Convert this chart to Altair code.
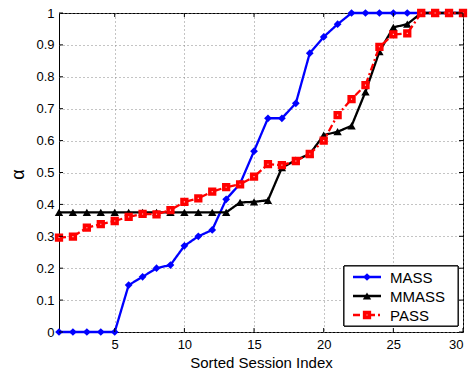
import altair as alt
import pandas as pd

# ---- data ----
session = list(range(1, 31))
mass = [0, 0, 0, 0, 0, 0.147, 0.173, 0.2, 0.21, 0.27, 0.30, 0.32, 0.416, 0.465, 0.567,
        0.67, 0.67, 0.717, 0.874, 0.925, 0.965, 1, 1, 1, 1, 1, 1, 1, 1, 1]
mmass = [0.375, 0.375, 0.375, 0.375, 0.375, 0.375, 0.375, 0.375, 0.375, 0.375, 0.375, 0.375, 0.375,
         0.406, 0.408, 0.413, 0.515, 0.539, 0.558, 0.617, 0.628, 0.646, 0.753, 0.879, 0.955,
         0.965, 1, 1, 1, 1]
pass_vals = [0.296, 0.299, 0.327, 0.338, 0.348, 0.361, 0.37, 0.369, 0.382, 0.408, 0.419, 0.44,
             0.454, 0.463, 0.487, 0.526, 0.523, 0.536, 0.558, 0.6, 0.68, 0.73, 0.774, 0.894,
             0.933, 0.936, 1, 1, 1, 1]
series_names = ["MASS", "MMASS", "PASS"]
x_ticks = [5, 10, 15, 20, 25, 30]
y_ticks = [0, 0.1, 0.2, 0.3, 0.4, 0.5, 0.6, 0.7, 0.8, 0.9, 1.0]

W, H = 404, 319
FONT = "Liberation Sans"

xs = alt.Scale(domain=[1, 30], nice=False, zero=False)
ys = alt.Scale(domain=[0, 1], nice=False)

def df_for(vals):
    return pd.DataFrame({"x": session, "y": vals})

xaxis = alt.Axis(values=x_ticks, title="Sorted Session Index", grid=True, ticks=False,
                 domain=False, labelOverlap=False)
yaxis = alt.Axis(values=y_ticks, title="α", format=".1~f", grid=True, ticks=False,
                 domain=False, labelOverlap=False, titleAngle=270)
xenc = alt.X("x:Q", scale=xs, axis=xaxis)
yenc = alt.Y("y:Q", scale=ys, axis=yaxis)

styles = {
    "MASS": dict(color="#0000ff", shape="diamond", size=60, dash=[1, 0], filled=True),
    "MMASS": dict(color="#000000", shape="triangle-up", size=70, dash=[1, 0], filled=True),
    "PASS": dict(color="#ff0000", shape="square", size=22, dash=[7, 3, 2, 3], filled=False),
}
data_map = {"MASS": mass, "MMASS": mmass, "PASS": pass_vals}

def point_layer(d, st, enc):
    if st["filled"]:
        return alt.Chart(d).mark_point(shape=st["shape"], size=st["size"], filled=True,
                                       color=st["color"], opacity=1).encode(**enc)
    return alt.Chart(d).mark_point(shape=st["shape"], size=st["size"], filled=False,
                                   stroke=st["color"], fill="#ffd0d0", strokeWidth=3.6,
                                   opacity=1).encode(**enc)

layers = []
for name in series_names:
    st = styles[name]
    d = df_for(data_map[name])
    line = alt.Chart(d).mark_line(color=st["color"], strokeWidth=2.3,
                                  strokeDash=st["dash"]).encode(x=xenc, y=yenc)
    layers += [line, point_layer(d, st, dict(x=xenc, y=yenc))]

# inward tick marks (axis decoration)
xt = pd.DataFrame({"x": x_ticks})
yt = pd.DataFrame({"y": y_ticks})
tick_layers = [
    alt.Chart(xt).mark_rule(color="black", strokeWidth=1).encode(
        x=xenc, y=alt.value(H), y2=alt.value(H - 4)),
    alt.Chart(xt).mark_rule(color="black", strokeWidth=1).encode(
        x=xenc, y=alt.value(0), y2=alt.value(4)),
    alt.Chart(yt).mark_rule(color="black", strokeWidth=1).encode(
        y=yenc, x=alt.value(0), x2=alt.value(4)),
    alt.Chart(yt).mark_rule(color="black", strokeWidth=1).encode(
        y=yenc, x=alt.value(W), x2=alt.value(W - 4)),
]

# legend box (decoration)
lx0, lx1, ly0, ly1 = 285, 399, 253, 313
leg = pd.DataFrame({"name": series_names})
legend_layers = [
    alt.Chart(leg).mark_rect(fill="white", stroke="black", strokeWidth=1).encode(
        x=alt.value(lx0), x2=alt.value(lx1), y=alt.value(ly0), y2=alt.value(ly1)),
]
row_y = {"MASS": 264, "MMASS": 283, "PASS": 302}
for name in series_names:
    st = styles[name]
    one = pd.DataFrame({"name": [name]})
    ry = row_y[name]
    legend_layers.append(alt.Chart(one).mark_rule(color=st["color"], strokeWidth=2.3,
                                                  strokeDash=st["dash"]).encode(
        x=alt.value(294), x2=alt.value(322), y=alt.value(ry)))
    legend_layers.append(point_layer(one, st, dict(x=alt.value(308), y=alt.value(ry))))
    legend_layers.append(alt.Chart(one).mark_text(align="left", baseline="middle",
                                                  font=FONT, fontSize=15,
                                                  color="black").encode(
        x=alt.value(331), y=alt.value(ry + 1), text="name:N"))

chart = alt.layer(*layers, *tick_layers, *legend_layers).properties(
    width=W, height=H,
    autosize=alt.AutoSizeParams(type="none"),
    padding={"left": 59, "top": 13, "right": 7, "bottom": 42},
).configure_view(
    stroke="black", strokeWidth=1
).configure_axis(
    labelFont=FONT, labelFontSize=13, labelColor="black",
    titleFont=FONT, titleColor="black", titleFontWeight="normal",
    gridColor="#888888", gridDash=[1, 3], gridWidth=1, gridOpacity=1,
    labelPadding=5,
).configure_axisX(
    titleFontSize=15, titlePadding=4, labelPadding=6,
).configure_axisY(
    titleFontSize=18, titleX=-41, titleY=161, titleBaseline="middle", labelPadding=5,
)

chart.save("out.html", embed_options={"renderer": "svg", "actions": False})
